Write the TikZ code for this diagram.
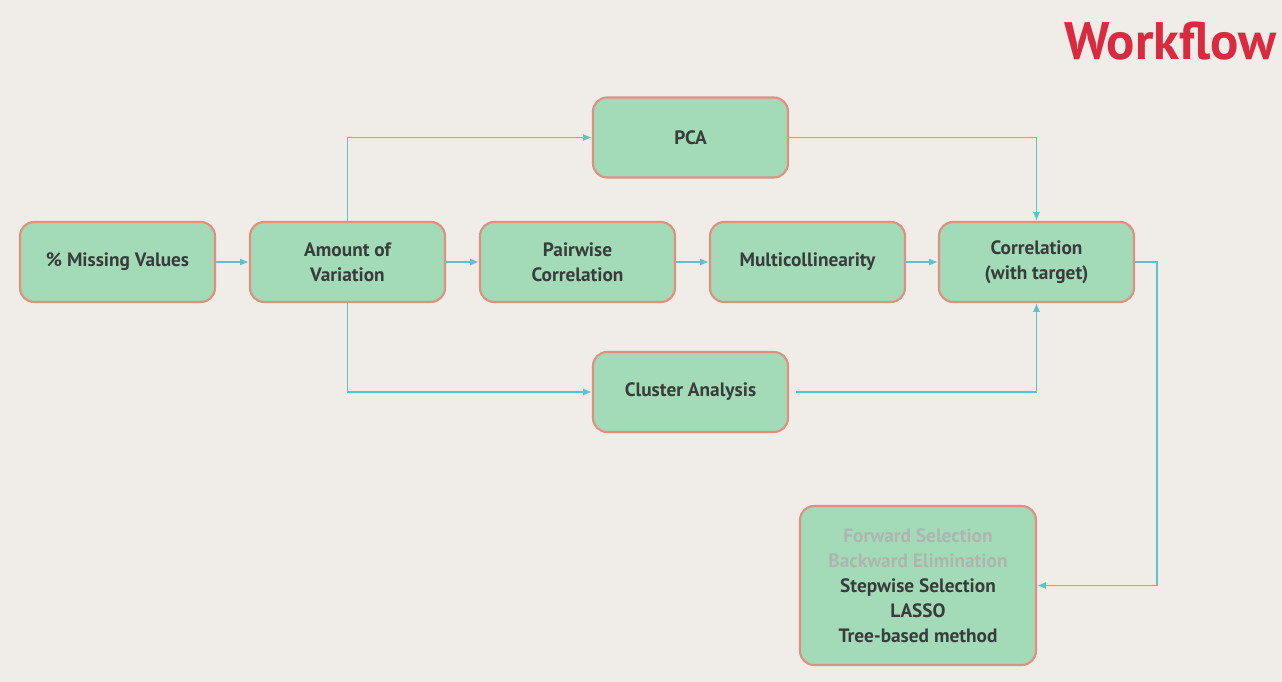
\documentclass[tikz,border=0pt]{standalone}
\usepackage{fontspec}
\setmainfont{PT Sans}
\usetikzlibrary{arrows.meta}
\definecolor{bg}{HTML}{F0ECE8}
\definecolor{boxfill}{HTML}{A3DBB8}
\definecolor{boxline}{HTML}{E0907F}
\definecolor{lnk}{HTML}{5CC3CB}
\definecolor{txt}{HTML}{383C3A}
\definecolor{faded}{HTML}{ADB5AE}
\definecolor{titlered}{HTML}{D92A40}
\tikzset{
  stepbox/.style={draw=boxline, line width=1.2pt, fill=boxfill, rounded corners=0.28cm,
    minimum width=3.9cm, minimum height=1.6cm, align=center, text=txt,
    font=\bfseries\fontsize{11}{14}\selectfont, inner sep=2pt},
  link/.style={draw=lnk, line width=0.8pt, -{Latex[length=5pt,width=4pt]}},
}
\begin{document}
\begin{tikzpicture}[x=0.02cm,y=-0.02cm]
\fill[bg] (0,0) rectangle (1282,682);
\useasboundingbox (0,0) rectangle (1282,682);
\node[text=titlered, font=\bfseries\fontsize{30}{32}\selectfont, anchor=east, inner sep=0pt] (title) at (1277,41) {Workflow};
\node[stepbox] (miss) at (117.5,262) {\% Missing Values};
\node[stepbox] (amount) at (347.5,262) {Amount of\\Variation};
\node[stepbox] (pair) at (577.5,262) {Pairwise\\Correlation};
\node[stepbox] (multi) at (807.5,262) {Multicollinearity};
\node[stepbox] (corr) at (1036.5,262) {Correlation\\(with target)};
\node[stepbox] (pca) at (690.5,137.5) {PCA};
\node[stepbox] (clus) at (690.5,392) {Cluster Analysis};
\node[stepbox, minimum width=4.72cm, minimum height=3.18cm, font=\bfseries\fontsize{11}{14.2}\selectfont] (sel) at (918,585.5)
  {\textcolor{faded}{Forward Selection}\\\textcolor{faded}{Backward Elimination}\\Stepwise Selection\\LASSO\\Tree-based method};
\coordinate (c1) at (1157,262);
\draw[link] (miss) -- (amount);
\draw[link] (amount) -- (pair);
\draw[link] (pair) -- (multi);
\draw[link] (multi) -- (corr);
\draw[link] (amount.north) |- (pca.west);
\draw[link] (pca.east) -| (corr.north);
\draw[link] (amount.south) |- (clus.west);
\draw[link] ([xshift=0.14cm]clus.east) -| (corr.south);
\draw[link] (corr.east) -- (c1) |- (sel.east);
\end{tikzpicture}
\end{document}
